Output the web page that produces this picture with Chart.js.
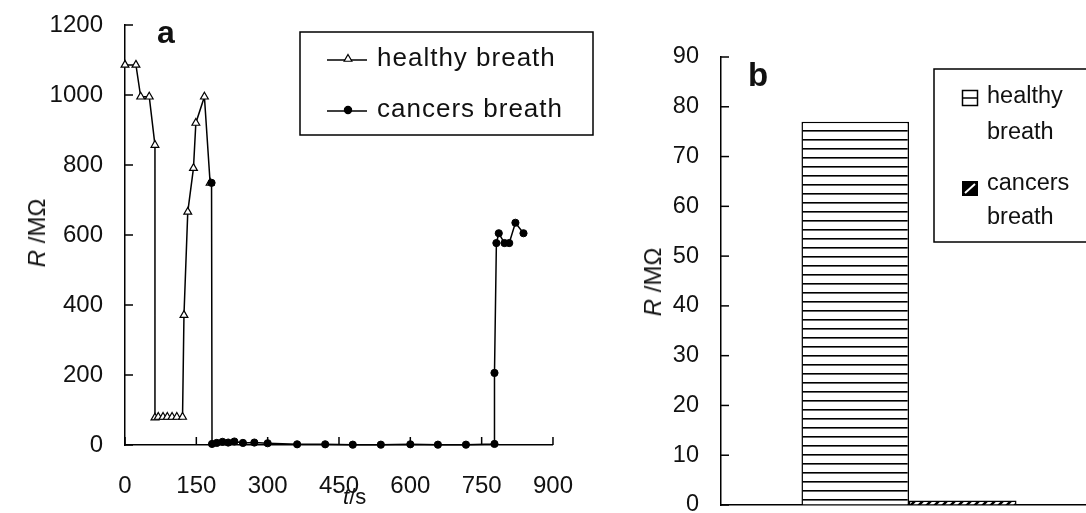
<!DOCTYPE html>
<html><head><meta charset="utf-8">
<script src="https://cdn.jsdelivr.net/npm/chart.js@4.4.0/dist/chart.umd.min.js"></script>
<style>
html,body{margin:0;padding:0;background:#fff;overflow:hidden;width:1086px;height:513px;position:relative;}
#ca{position:absolute;left:0;top:0;}
#cb{position:absolute;left:600px;top:0;}
.lbl{position:absolute;font-family:"Liberation Sans",Arial,sans-serif;color:#111;white-space:nowrap;line-height:1;}
</style></head><body>
<canvas id="ca" width="600" height="513"></canvas>
<canvas id="cb" width="520" height="513"></canvas>
<div class="lbl" style="left:37px;top:233px;font-size:24px;transform:translate(-50%,-50%) rotate(-90deg);"><i>R</i> /MΩ</div>
<div class="lbl" style="left:653px;top:282px;font-size:24px;transform:translate(-50%,-50%) rotate(-90deg);"><i>R</i> /MΩ</div>
<div class="lbl" style="left:343px;top:486px;font-size:22px;"><i>t</i>/s</div>
<div class="lbl" style="left:157px;top:16px;font-size:32px;font-weight:bold;">a</div>
<div class="lbl" style="left:748px;top:58px;font-size:33px;font-weight:bold;">b</div>
<script>
// ---- data: chart a ----
const seriesA = ['healthy breath', 'cancers breath'];
const healthyT = [0, 23, 33, 51, 63, 63, 70, 80, 89, 99, 109, 121, 124, 132, 144, 149, 167, 179];
const healthyR = [1086, 1086, 995, 995, 857, 78, 80, 80, 80, 80, 80, 80, 371, 666, 791, 920, 995, 749];
const cancerT = [182, 183, 193, 205, 217, 230, 248, 272, 300, 362, 421, 479, 538, 600, 658, 717, 777, 777, 781, 786, 798, 808, 821, 838];
const cancerR = [749, 3, 6, 9, 7, 10, 6, 7, 5, 2, 2, 1, 1, 2, 1, 1, 3, 206, 577, 605, 577, 577, 635, 605];
const xTicksA = [0, 150, 300, 450, 600, 750, 900];
const yTicksA = [0, 200, 400, 600, 800, 1000, 1200];
// ---- data: chart b ----
const categoriesB = [''];
const seriesB = ['healthy breath', 'cancers breath'];
const legendLinesB = [['healthy', 'breath'], ['cancers', 'breath']];
const valuesB = [77, 0.9];
const yTicksB = [0, 10, 20, 30, 40, 50, 60, 70, 80, 90];

const FONT = '"Liberation Sans", Arial, sans-serif';
Chart.defaults.font.family = FONT;
Chart.defaults.color = '#111';

// patterns
function hPattern() {
  const c = document.createElement('canvas'); c.width = 9; c.height = 9;
  const g = c.getContext('2d');
  g.fillStyle = '#fff'; g.fillRect(0, 0, 9, 9);
  g.fillStyle = '#000'; g.fillRect(0, 4, 9, 1.6);
  return g.createPattern(c, 'repeat');
}
function dPattern() {
  const c = document.createElement('canvas'); c.width = 8; c.height = 8;
  const g = c.getContext('2d');
  g.fillStyle = '#fff'; g.fillRect(0, 0, 8, 8);
  g.strokeStyle = '#000'; g.lineWidth = 2.5;
  g.beginPath(); g.moveTo(-2, 10); g.lineTo(10, -2); g.moveTo(-2, 2); g.lineTo(2, -2); g.moveTo(6, 10); g.lineTo(10, 6); g.stroke();
  return g.createPattern(c, 'repeat');
}

const innerTicks = {
  id: 'innerTicks',
  beforeDatasetsDraw(chart, args, opts) {
    const {ctx, chartArea: ca} = chart;
    ctx.save(); ctx.strokeStyle = '#000'; ctx.lineWidth = 1.5;
    const ys = chart.scales.y;
    ys.ticks.forEach(t => {
      const p = ys.getPixelForValue(t.value);
      ctx.beginPath(); ctx.moveTo(ca.left, p); ctx.lineTo(ca.left + 8, p); ctx.stroke();
    });
    if (opts.xTicks) {
      const xs = chart.scales.x;
      xs.ticks.forEach(t => {
        const p = xs.getPixelForValue(t.value);
        ctx.beginPath(); ctx.moveTo(p, ca.bottom); ctx.lineTo(p, ca.bottom - 8); ctx.stroke();
      });
    }
    ctx.restore();
  }
};

const legendA = {
  id: 'legendA',
  afterDraw(chart) {
    const ctx = chart.ctx;
    ctx.save();
    ctx.strokeStyle = '#000'; ctx.lineWidth = 1.5;
    ctx.strokeRect(300, 32, 293, 103);
    const rows = [59, 110];
    chart.data.datasets.forEach((ds, i) => {
      const y = rows[i];
      ctx.strokeStyle = '#000'; ctx.lineWidth = 1.5;
      ctx.beginPath(); ctx.moveTo(327, y + 1); ctx.lineTo(367, y + 1); ctx.stroke();
      ctx.fillStyle = ds.pointBackgroundColor; ctx.strokeStyle = '#000'; ctx.lineWidth = 1.2;
      Chart.helpers.drawPoint(ctx, {pointStyle: ds.pointStyle, radius: ds.pointRadius, rotation: 0, borderWidth: 1.2}, 348, y);
      ctx.fillStyle = '#111';
      ctx.font = '26px ' + FONT;
      ctx.letterSpacing = '1px';
      ctx.textBaseline = 'middle'; ctx.textAlign = 'left';
      ctx.fillText(ds.label, 377, y);
    });
    ctx.restore();
  }
};

const legendB = {
  id: 'legendB',
  afterDraw(chart) {
    const ctx = chart.ctx;
    ctx.save();
    ctx.strokeStyle = '#000'; ctx.lineWidth = 1.5;
    ctx.strokeRect(334, 69, 300, 173);
    ctx.lineWidth = 1.5;
    ctx.strokeRect(362.5, 90.5, 15, 15);
    ctx.beginPath(); ctx.moveTo(362.5, 98); ctx.lineTo(377.5, 98); ctx.stroke();
    ctx.fillStyle = '#000'; ctx.fillRect(362, 181, 16, 15);
    ctx.strokeStyle = '#fff'; ctx.lineWidth = 2;
    ctx.beginPath(); ctx.moveTo(365, 193); ctx.lineTo(375, 184); ctx.stroke();
    ctx.fillStyle = '#111';
    ctx.font = '23.5px ' + FONT;
    ctx.textBaseline = 'middle'; ctx.textAlign = 'left';
    const ys = [[97, 133], [184, 218]];
    legendLinesB.forEach((lines, i) => {
      lines.forEach((t, j) => ctx.fillText(t, 387, ys[i][j]));
    });
    ctx.restore();
  }
};

const plain = v => String(v);
const noPadV = s => { s.paddingTop = 0; s.paddingBottom = 0; };

new Chart(document.getElementById('ca'), {
  type: 'line',
  data: {
    datasets: [
      {label: seriesA[0], data: healthyT.map((t, i) => ({x: t, y: healthyR[i]})),
       borderColor: '#000', borderWidth: 1.5, pointStyle: 'triangle', pointRadius: 4.5,
       pointBackgroundColor: '#fff', pointBorderColor: '#000', pointBorderWidth: 1.2,
       tension: 0, clip: false, order: 1},
      {label: seriesA[1], data: cancerT.map((t, i) => ({x: t, y: cancerR[i]})),
       borderColor: '#000', borderWidth: 1.5, pointStyle: 'circle', pointRadius: 3.6,
       pointBackgroundColor: '#000', pointBorderColor: '#000', pointBorderWidth: 1,
       tension: 0, clip: false, order: 0}
    ]
  },
  options: {
    responsive: false, animation: false, events: [],
    layout: {padding: {left: 0, top: 25, right: 22, bottom: 0}},
    plugins: {legend: {display: false}, tooltip: {enabled: false}, innerTicks: {xTicks: true}},
    scales: {
      x: {type: 'linear', min: 0, max: 900,
          afterBuildTicks: s => { s.ticks = xTicksA.map(v => ({value: v})); },
          ticks: {padding: 27, font: {size: 24}, color: '#111', maxRotation: 0, autoSkip: false, callback: plain},
          grid: {display: true, drawOnChartArea: false, drawTicks: false},
          border: {display: true, color: '#000', width: 1.5},
          afterFit: s => { s.height = 68; }},
      y: {min: 0, max: 1200,
          afterBuildTicks: s => { s.ticks = yTicksA.map(v => ({value: v})); },
          ticks: {padding: 22, font: {size: 24}, color: '#111', autoSkip: false, callback: plain},
          grid: {display: true, drawOnChartArea: false, drawTicks: false},
          border: {display: true, color: '#000', width: 1.5},
          afterFit: s => { s.width = 125; noPadV(s); }}
    }
  },
  plugins: [innerTicks, legendA]
});

const pats = [hPattern(), dPattern()];
new Chart(document.getElementById('cb'), {
  type: 'bar',
  data: {
    labels: categoriesB,
    datasets: seriesB.map((name, i) => ({
      label: name, data: [valuesB[i]], backgroundColor: pats[i],
      borderColor: '#000', borderWidth: 1.5,
      categoryPercentage: 0.572, barPercentage: 1
    }))
  },
  options: {
    responsive: false, animation: false, events: [],
    layout: {padding: {left: 0, top: 57, right: 23, bottom: 0}},
    plugins: {legend: {display: false}, tooltip: {enabled: false}, innerTicks: {xTicks: false}},
    scales: {
      x: {ticks: {display: false},
          grid: {display: true, drawOnChartArea: false, drawTicks: false},
          border: {display: true, color: '#000', width: 1.5},
          afterFit: s => { s.height = 8; }},
      y: {min: 0, max: 90,
          afterBuildTicks: s => { s.ticks = yTicksB.map(v => ({value: v})); },
          ticks: {padding: 22, font: {size: 23.5}, color: '#111', autoSkip: false, callback: plain},
          grid: {display: true, drawOnChartArea: false, drawTicks: false},
          border: {display: true, color: '#000', width: 1.5},
          afterFit: s => { s.width = 121; noPadV(s); }}
    }
  },
  plugins: [innerTicks, legendB]
});
</script>
</body></html>
